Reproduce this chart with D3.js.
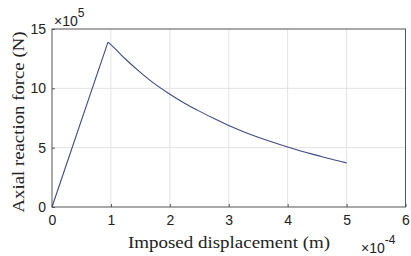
<!DOCTYPE html>
<html><head><meta charset="utf-8">
<script src="https://cdn.jsdelivr.net/npm/d3@7/dist/d3.min.js"></script>
<style>body{margin:0;background:#fff}svg{display:block}</style>
</head><body>
<svg id="c" width="411" height="256"></svg>
<script>
// displacement in units of 1e-4 m, force in units of 1e5 N
const disp  = [0, 0.95, 1.0, 1.25, 1.5, 1.75, 2.0, 2.25, 2.5, 2.75, 3.0, 3.25, 3.5, 3.75, 4.0, 4.25, 4.5, 4.75, 5.0];
const force = [0, 13.9, 13.68, 12.45, 11.35, 10.35, 9.5, 8.75, 8.08, 7.45, 6.87, 6.35, 5.88, 5.45, 5.05, 4.68, 4.35, 4.02, 3.72];
const xTicks = [0, 1, 2, 3, 4, 5, 6];
const yTicks = [0, 5, 10, 15];

const svg = d3.select("#c");
const L = 52, R = 405.5, T = 29, B = 207;
const x = d3.scaleLinear().domain([0, 6]).range([L, R]);
const y = d3.scaleLinear().domain([0, 15]).range([B, T]);

// grid
svg.append("g").selectAll("line").data(xTicks.slice(1, -1)).join("line")
  .attr("x1", d => x(d)).attr("x2", d => x(d)).attr("y1", T).attr("y2", B)
  .attr("stroke", "#e3e3e3").attr("stroke-width", 1);
svg.append("g").selectAll("line").data(yTicks.slice(1, -1)).join("line")
  .attr("y1", d => y(d)).attr("y2", d => y(d)).attr("x1", L).attr("x2", R)
  .attr("stroke", "#e3e3e3").attr("stroke-width", 1);

// frame
svg.append("rect").attr("x", L).attr("y", T).attr("width", R - L).attr("height", B - T)
  .attr("fill", "none").attr("stroke", "#555").attr("stroke-width", 1);

const font = "'Liberation Sans', Arial, sans-serif";
const xa = svg.append("g").attr("transform", `translate(0,${B})`)
  .call(d3.axisBottom(x).tickValues(xTicks).tickFormat(d3.format("d")).tickSizeInner(-3).tickSizeOuter(0).tickPadding(8));
const ya = svg.append("g").attr("transform", `translate(${L},0)`)
  .call(d3.axisLeft(y).tickValues(yTicks).tickFormat(d3.format("d")).tickSizeInner(-3).tickSizeOuter(0).tickPadding(6));
[xa, ya].forEach(g => {
  g.select(".domain").remove();
  g.selectAll("line").attr("stroke", "#555");
  g.selectAll("text").attr("fill", "#222").style("font-family", font).style("font-size", "14px");
});

// line: linear rise, smooth decay
const pts = disp.map((d, i) => [d, force[i]]);
const line = d3.line().x(d => x(d[0])).y(d => y(d[1]));
svg.append("path").datum(pts.slice(0, 2)).attr("d", line)
  .attr("fill", "none").attr("stroke", "#3f4a85").attr("stroke-width", 1.1);
svg.append("path").datum(pts.slice(1)).attr("d", line.curve(d3.curveMonotoneX))
  .attr("fill", "none").attr("stroke", "#3f4a85").attr("stroke-width", 1.1);

// labels
const serif = "'Liberation Serif', 'DejaVu Serif', serif";
svg.append("text").attr("x", 229).attr("y", 247.5).attr("text-anchor", "middle")
  .attr("textLength", 202).attr("lengthAdjust", "spacingAndGlyphs")
  .style("font-family", serif).style("font-size", "16.5px").attr("fill", "#222")
  .text("Imposed displacement (m)");
svg.append("text").attr("transform", `translate(24,122) rotate(-90)`).attr("text-anchor", "middle")
  .attr("textLength", 181).attr("lengthAdjust", "spacingAndGlyphs")
  .style("font-family", serif).style("font-size", "16.5px").attr("fill", "#222")
  .text("Axial reaction force (N)");

// exponents
const e1 = svg.append("text").attr("x", 54).attr("y", 26).style("font-family", font).style("font-size", "14px").attr("fill", "#222");
e1.append("tspan").text("×10");
e1.append("tspan").attr("dy", -9).style("font-size", "12px").text("5");
const e2 = svg.append("text").attr("x", 361).attr("y", 253).style("font-family", font).style("font-size", "14px").attr("fill", "#222");
e2.append("tspan").text("×10");
e2.append("tspan").attr("dy", -9).style("font-size", "12px").text("-4");
</script>
</body></html>
